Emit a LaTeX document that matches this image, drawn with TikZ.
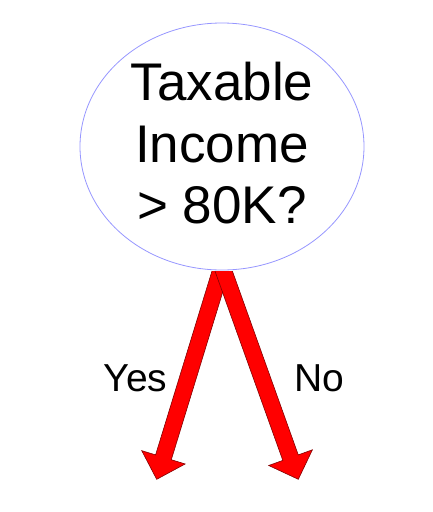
\documentclass[tikz,border=0pt]{standalone}
\usepackage{fontspec}
\setmainfont{Liberation Sans}
\usetikzlibrary{shapes.geometric,calc}
\definecolor{ellblue}{RGB}{150,150,255}
\definecolor{arrowred}{RGB}{255,0,0}
\definecolor{arrowedge}{RGB}{130,0,0}
\tikzset{
  decision/.style={ellipse, draw=ellblue, line width=0.8pt, minimum width=284pt, minimum height=247pt, inner sep=0pt},
  qtext/.style={align=center, inner sep=0pt, font=\fontsize{53}{61.5}\selectfont},
  branchlabel/.style={anchor=base, inner sep=0pt, font=\fontsize{39}{45}\selectfont},
  bigarrow/.style={fill=arrowred, draw=arrowedge, line width=0.6pt, line join=miter},
}
\begin{document}
\begin{tikzpicture}[x=1pt,y=-1pt]
\useasboundingbox (0,0) rectangle (432,512);
\node[decision] (q) at (222,146.5) {};
\node[qtext] (qt) at (222,143.5) {Taxable\\Income\\> 80K?};
\coordinate (s) at ($(q.south)+(0,-4)$);
\coordinate (lt) at (156.7,479.3);
\coordinate (rt) at (298.3,479.3);
\coordinate (lh) at ($(lt)!23pt!(s)$);
\coordinate (rh) at ($(rt)!23pt!(s)$);
\begin{scope}
\clip (0,271) rectangle (432,512);
\filldraw[bigarrow] ($(s)!8.2pt!90:(lt)$) -- ($(lh)!8.2pt!90:(lt)$) -- ($(lh)!22.7pt!90:(lt)$) -- (lt)
  -- ($(lh)!22.7pt!-90:(lt)$) -- ($(lh)!8.2pt!-90:(lt)$) -- ($(s)!8.2pt!-90:(lt)$) -- cycle;
\filldraw[bigarrow] ($(s)!8.2pt!90:(rt)$) -- ($(rh)!8.2pt!90:(rt)$) -- ($(rh)!23.2pt!90:(rt)$) -- (rt)
  -- ($(rh)!23.2pt!-90:(rt)$) -- ($(rh)!8.2pt!-90:(rt)$) -- ($(s)!8.2pt!-90:(rt)$) -- cycle;
\end{scope}
\node[branchlabel] (yes) at (135.5,391) {Yes};
\node[branchlabel] (no) at (319,391) {No};
\end{tikzpicture}
\end{document}
